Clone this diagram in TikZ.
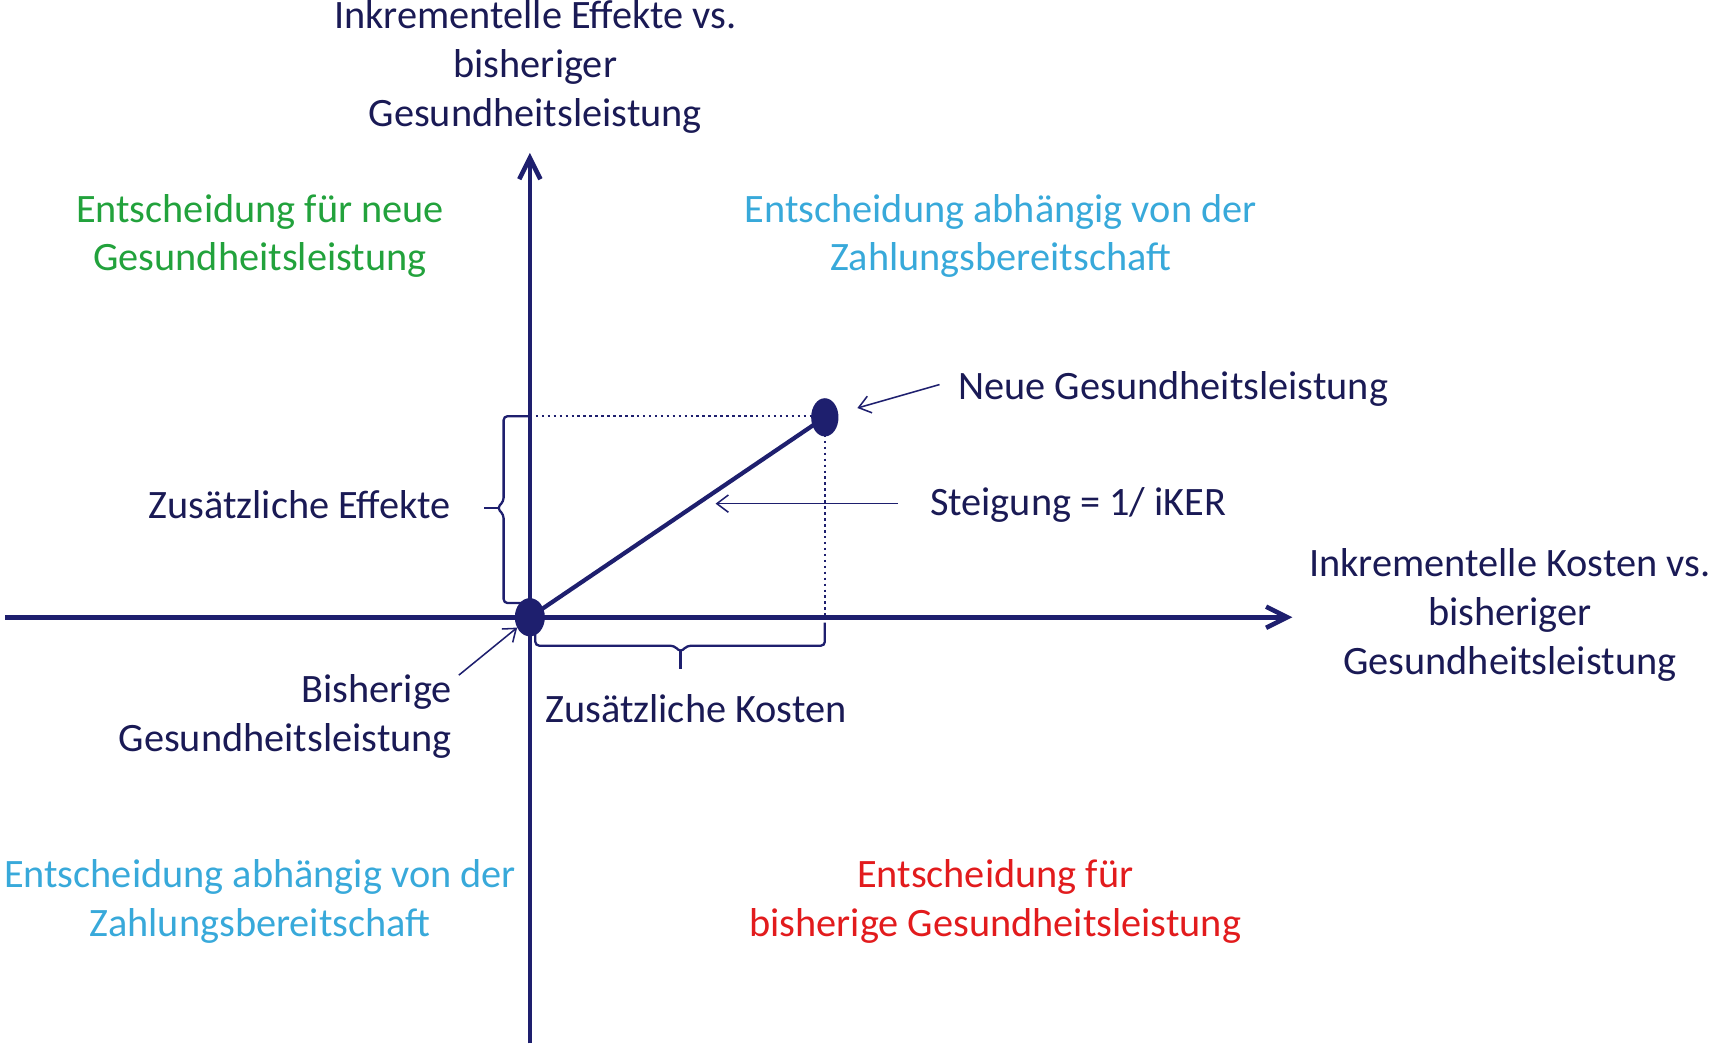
\documentclass[tikz,border=0pt]{standalone}
\usepackage{fontspec}
\setmainfont{Carlito}
\usetikzlibrary{arrows.meta,shapes.geometric}
\definecolor{navy}{HTML}{1E1F6E}
\definecolor{txt}{HTML}{1A1A55}
\definecolor{grn}{HTML}{22A23C}
\definecolor{lblue}{HTML}{38A9DA}
\definecolor{rd}{HTML}{E21B1D}
\begin{document}
\begin{tikzpicture}[x=0.02cm,y=-0.02cm,
  lbl/.style={font=\fontsize{21}{25.5}\selectfont, inner sep=0pt, align=center, text=txt},
  axisline/.style={draw=navy, line width=2.4pt},
  axisarrow/.style={axisline, -{Straight Barb[length=11pt,width=11pt,line width=2.4pt]}},
  slopeline/.style={draw=navy, line width=2.2pt},
  thinarrow/.style={draw=navy, line width=0.8pt, -{Straight Barb[length=6pt,width=9pt,line width=0.8pt]}},
  bracestyle/.style={draw=navy, line width=1.2pt, rounded corners=2pt},
  dotline/.style={draw=navy, line width=1.3pt, dash pattern=on 1.3pt off 1.8pt},
  pt/.style={ellipse, fill=navy, draw=none, inner sep=0pt}]
\useasboundingbox (0,0) rectangle (1568,955);

% axes
\coordinate (xl) at (5,565);
\coordinate (xr) at (1183,565);
\coordinate (yb) at (485,955);
\coordinate (yt) at (485,140);
\draw[axisarrow] (xl) -- (xr);
\draw[axisarrow] (yb) -- (yt);

% guide lines
\coordinate (ey) at (485,381);
\coordinate (kx) at (755,565);
\draw[dotline] (ey) -- (748,381);
\draw[dotline] (755,398) -- (kx);

% points and slope
\node[pt, minimum width=0.55cm, minimum height=0.7cm] (dotO) at (485,565) {};
\node[pt, minimum width=0.5cm, minimum height=0.7cm] (dotN) at (755,382) {};
\draw[slopeline] (dotO.center) -- (dotN.center);

% braces
\draw[bracestyle] (485,381) -- (461,381) -- (461,459) -- (455,465) -- (461,471) -- (461,552) -- (485,552);
\draw[draw=navy, line width=1.2pt] (456,465) -- (443,465);
\draw[bracestyle] (490,572) -- (490,591) -- (617,591) -- (623,597) -- (629,591) -- (755,591) -- (755,570);
\draw[draw=navy, line width=1.2pt] (623,596) -- (623,612);

% labels
\node[lbl] (ylab) at (490,61) {Inkrementelle Effekte vs.\\bisheriger\\Gesundheitsleistung};
\node[lbl, text=grn] (q2) at (238,216) {Entscheidung für neue\\Gesundheitsleistung};
\node[lbl, text=lblue] (q1) at (916,216) {Entscheidung abhängig von der\\Zahlungsbereitschaft};
\node[lbl, anchor=west] (neu) at (877,356) {Neue Gesundheitsleistung};
\node[lbl, anchor=west] (steig) at (851,462) {Steigung = 1/ iKER};
\node[lbl, anchor=east] (zeff) at (413,462) {Zusätzliche Effekte};
\node[lbl] (xlab) at (1382,563) {Inkrementelle Kosten vs.\\bisheriger\\Gesundheitsleistung};
\node[lbl, align=right, anchor=east] (bish) at (414,656) {Bisherige\\Gesundheitsleistung};
\node[lbl] (zkost) at (637,649) {Zusätzliche Kosten};
\node[lbl, text=lblue] (q3) at (238,825) {Entscheidung abhängig von der\\Zahlungsbereitschaft};
\node[lbl, text=rd] (q4) at (911,825) {Entscheidung für\\bisherige Gesundheitsleistung};

% pointer arrows
\coordinate (a1s) at (860,352);
\coordinate (a2s) at (822,461);
\coordinate (a2e) at (655,461);
\coordinate (a3s) at (420,618);
\draw[thinarrow, shorten >=0.62cm] (a1s) -- (dotN.center);
\draw[thinarrow] (a2s) -- (a2e);
\draw[thinarrow, shorten >=0.3cm] (a3s) -- (dotO.center);
\end{tikzpicture}
\end{document}
